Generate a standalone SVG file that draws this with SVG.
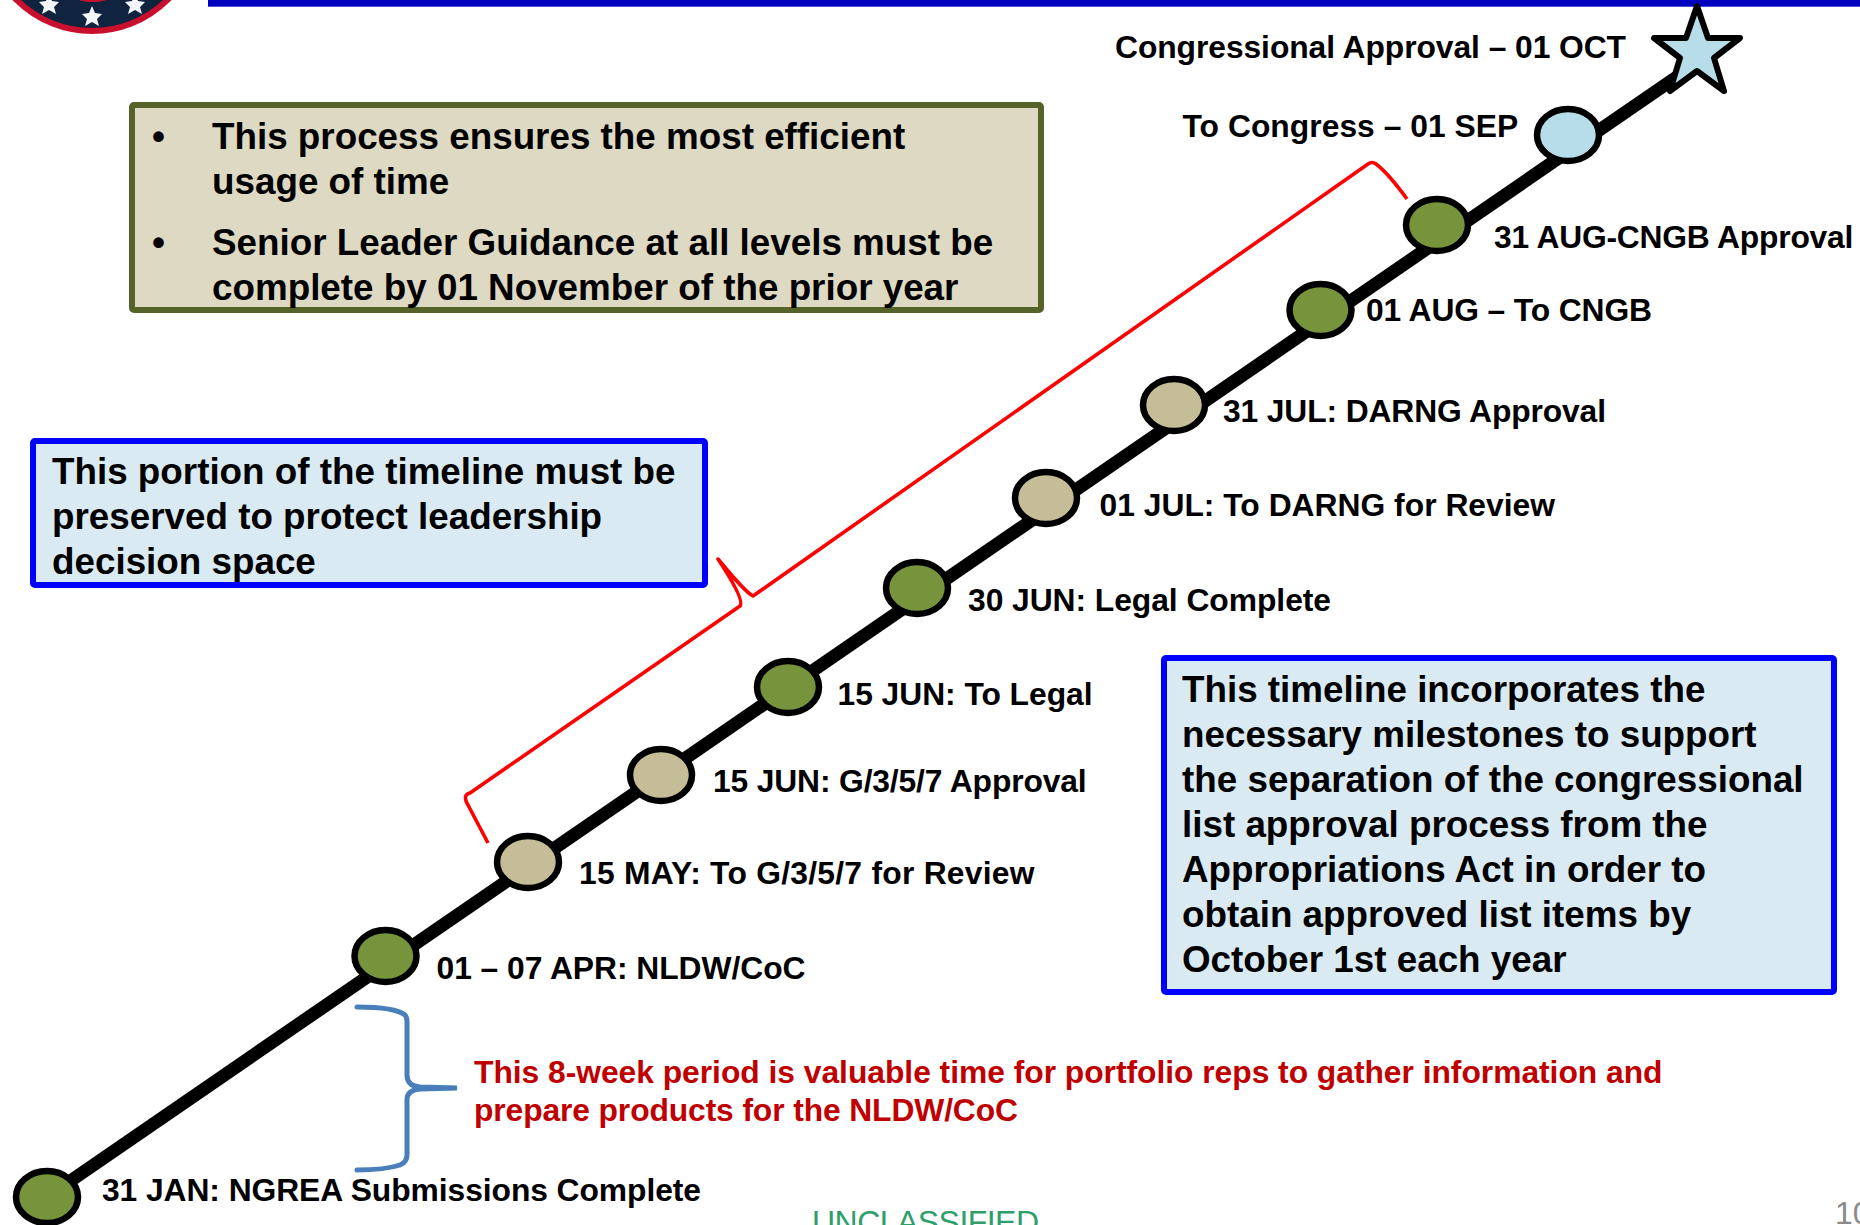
<svg xmlns="http://www.w3.org/2000/svg" width="1860" height="1225" viewBox="0 0 1860 1225">
<style>
text{font-family:"Liberation Sans",Arial,sans-serif;font-weight:700;fill:#000}
.l{font-size:31.8px}
.b{font-size:36.8px}
.bu{font-size:37px}
.r{font-size:31.8px;fill:#c00000}
.n{stroke:#000;stroke-width:6.500}
.g{fill:#77933c}
.t{fill:#c4bd97}
.u{fill:#b7dde8}
</style>
<g id="seal">
<circle cx="92" cy="-76" r="107" fill="#11243f" stroke="#c8102e" stroke-width="6"/>
<path d="M80 -1Q92 2 105 -1" fill="none" stroke="#c8102e" stroke-width="3"/>
<polygon fill="#f4f6fa" points="49,-6 52,1 59,2 54,7 56,14 49,10 42,14 44,7 39,2 46,1"/>
<polygon fill="#f4f6fa" points="92,6 95,13 102,14 97,19 99,26 92,22 85,26 87,19 82,14 89,13"/>
<polygon fill="#f4f6fa" points="135,-6 138,1 145,2 140,7 142,14 135,10 128,14 130,7 125,2 132,1"/>
</g>
<rect id="top-bar" x="208" y="-2" width="1652" height="8.700" fill="#0000bf"/>
<g id="connectors">
<line id="timeline" x1="47" y1="1197" x2="1697" y2="63" stroke="#000" stroke-width="13"/>
<path id="red-bracket" d="M488 843L468 805Q462 795 470 793L740 606Q745 600 718 559Q745 592 753 596L1368 164Q1372 161 1376 164Q1388 173 1407 199" fill="none" stroke="#f00" stroke-width="3.600" stroke-linejoin="round"/>
<path id="blue-brace" d="M357 1007Q395 1007 405 1015Q407 1017 407 1022V1075Q407 1086 420 1087L457 1088L420 1089Q407 1090 407 1100V1155Q407 1162 400 1165Q385 1170 357 1170" fill="none" stroke="#4a7ebb" stroke-width="5" stroke-linecap="round"/>
</g>
<g id="note-efficiency">
<rect x="132" y="105" width="909" height="205" rx="2" fill="#ddd9c3" stroke="#556228" stroke-width="6"/>
<text class="bu" x="152" y="149">•</text>
<text class="b" x="212" y="149">This process ensures the most efficient</text>
<text class="b" x="212" y="194">usage of time</text>
<text class="bu" x="152" y="255">•</text>
<text class="b" x="212" y="255">Senior Leader Guidance at all levels must be</text>
<text class="b" x="212" y="300">complete by 01 November of the prior year</text>
</g>
<g id="note-preserve">
<rect x="33" y="441" width="672" height="144" rx="2" fill="#d9eaf2" stroke="#00f" stroke-width="6"/>
<text class="b" x="52" y="484">This portion of the timeline must be</text>
<text class="b" x="52" y="529">preserved to protect leadership</text>
<text class="b" x="52" y="574">decision space</text>
</g>
<g id="note-milestones">
<rect x="1164" y="658" width="670" height="334" rx="2" fill="#d9eaf2" stroke="#00f" stroke-width="6"/>
<text class="b" x="1182" y="702">This timeline incorporates the</text>
<text class="b" x="1182" y="746.500">necessary milestones to support</text>
<text class="b" x="1182" y="791.500">the separation of the congressional</text>
<text class="b" x="1182" y="836.500">list approval process from the</text>
<text class="b" x="1182" y="881.500">Appropriations Act in order to</text>
<text class="b" x="1182" y="926.500">obtain approved list items by</text>
<text class="b" x="1182" y="971.500">October 1st each year</text>
</g>
<g id="m-jan"><ellipse class="n g" cx="47" cy="1197" rx="31" ry="26"/><text class="l" x="102" y="1201" textLength="599">31 JAN: NGREA Submissions Complete</text></g>
<g id="m-apr"><ellipse class="n g" cx="385.500" cy="956" rx="31" ry="26"/><text class="l" x="436.500" y="979" textLength="369">01 – 07 APR: NLDW/CoC</text></g>
<g id="m-may"><ellipse class="n t" cx="528" cy="862" rx="31" ry="26"/><text class="l" x="579" y="884" textLength="455.500">15 MAY: To G/3/5/7 for Review</text></g>
<g id="m-jun-g"><ellipse class="n t" cx="661" cy="775" rx="31" ry="26"/><text class="l" x="713" y="792" textLength="373.600">15 JUN: G/3/5/7 Approval</text></g>
<g id="m-jun-l"><ellipse class="n g" cx="788" cy="687" rx="31" ry="26"/><text class="l" x="837.500" y="705" textLength="255">15 JUN: To Legal</text></g>
<g id="m-jun-c"><ellipse class="n g" cx="917" cy="588" rx="31" ry="26"/><text class="l" x="968" y="611" textLength="363">30 JUN: Legal Complete</text></g>
<g id="m-jul-r"><ellipse class="n t" cx="1046" cy="498" rx="31" ry="26"/><text class="l" x="1099.500" y="516" textLength="455.500">01 JUL: To DARNG for Review</text></g>
<g id="m-jul-a"><ellipse class="n t" cx="1174" cy="405" rx="31" ry="26"/><text class="l" x="1223" y="422" textLength="383">31 JUL: DARNG Approval</text></g>
<g id="m-aug"><ellipse class="n g" cx="1320.500" cy="310" rx="31" ry="26"/><text class="l" x="1366" y="321" textLength="286">01 AUG – To CNGB</text></g>
<g id="m-cngb"><ellipse class="n g" cx="1437" cy="225" rx="31" ry="26"/><text class="l" x="1494" y="248" textLength="359.400">31 AUG-CNGB Approval</text></g>
<g id="m-sep"><ellipse class="n u" cx="1568" cy="135" rx="31" ry="26"/><text class="l" x="1182.500" y="137" textLength="335.700">To Congress – 01 SEP</text></g>
<g id="m-oct"><polygon class="u" stroke="#000" stroke-width="6" stroke-linejoin="round" points="1697,6 1708,38 1740,38 1714,58 1724,91 1697,71 1670,91 1680,58 1654,38 1686,38"/><text class="l" x="1115" y="58" textLength="511">Congressional Approval – 01 OCT</text></g>
<g id="period-note">
<text class="r" x="474" y="1083" textLength="1188.500">This 8-week period is valuable time for portfolio reps to gather information and</text>
<text class="r" x="474" y="1121" textLength="544">prepare products for the NLDW/CoC</text>
</g>
<text id="classification" x="812" y="1233" font-size="32" textLength="227" style="font-weight:400;fill:#2e9e6b">UNCLASSIFIED</text>
<text id="page" x="1835" y="1224" font-size="32" style="font-weight:400;fill:#8a8a8a">10</text>
</svg>
